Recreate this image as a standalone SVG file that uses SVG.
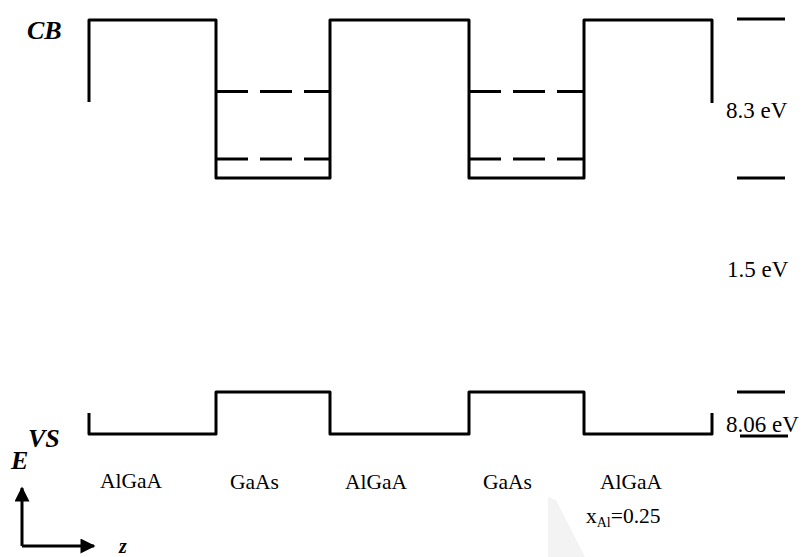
<svg xmlns="http://www.w3.org/2000/svg" width="803" height="557" viewBox="0 0 803 557">
<style>
.b{fill:none;stroke:#000;stroke-width:3;stroke-linejoin:round}
.d{fill:none;stroke:#000;stroke-width:3;stroke-dasharray:32 12}
.t{font-family:"Liberation Serif","Times New Roman",serif;fill:#000}
.bi{font-family:"Liberation Serif","Times New Roman",serif;font-weight:bold;font-style:italic;fill:#000}
</style>
<defs>
<marker id="ah" viewBox="0 0 10 10" refX="9" refY="5" markerWidth="6" markerHeight="5" orient="auto" markerUnits="strokeWidth">
<path d="M0,0 L10,5 L0,10 z" fill="#000"/>
</marker>
</defs>
<rect width="803" height="557" fill="#fff"/>
<polygon points="548,497 556,500 585,557 548,557" fill="#f3f3f3"/>
<g id="conduction-band">
<path class="b" d="M89,102 V20 H216 V178 H330 V20 H469 V178 H584 V20 H712 V103"/>
</g>
<g id="subbands">
<path class="d" d="M216,91.5 H330 M469,91.5 H584 M216,159 H330 M469,159 H584"/>
</g>
<g id="valence-band">
<path class="b" d="M89,413 V434 H216 V392 H330 V434 H469 V392 H584 V434 H712 V413"/>
</g>
<g id="markers">
<path class="b" d="M737,19 H785 M737,178 H785 M737,392 H785 M740,436 H788"/>
</g>
<g id="axes">
<path class="b" d="M22,546 H94" marker-end="url(#ah)"/>
<path class="b" d="M22,546 V488" marker-end="url(#ah)"/>
</g>
<g id="labels">
<text class="bi" x="27" y="39" font-size="26">CB</text>
<text class="bi" x="28" y="447" font-size="26">VS</text>
<text class="bi" x="11" y="469" font-size="26">E</text>
<text class="bi" x="119" y="553" font-size="20">z</text>
<text class="t" x="726" y="118" font-size="23">8.3 eV</text>
<text class="t" x="727" y="277" font-size="23">1.5 eV</text>
<text class="t" x="726" y="432" font-size="23">8.06 eV</text>
<text class="t" x="100" y="488" font-size="21.5">AlGaA</text>
<text class="t" x="230" y="489" font-size="21.5">GaAs</text>
<text class="t" x="345" y="489" font-size="21.5">AlGaA</text>
<text class="t" x="483" y="489" font-size="21.5">GaAs</text>
<text class="t" x="600" y="489" font-size="21.5">AlGaA</text>
<text class="t" x="586" y="523" font-size="21.5">x<tspan font-size="14" dy="4">Al</tspan><tspan dy="-4">=0.25</tspan></text>
</g>
</svg>
